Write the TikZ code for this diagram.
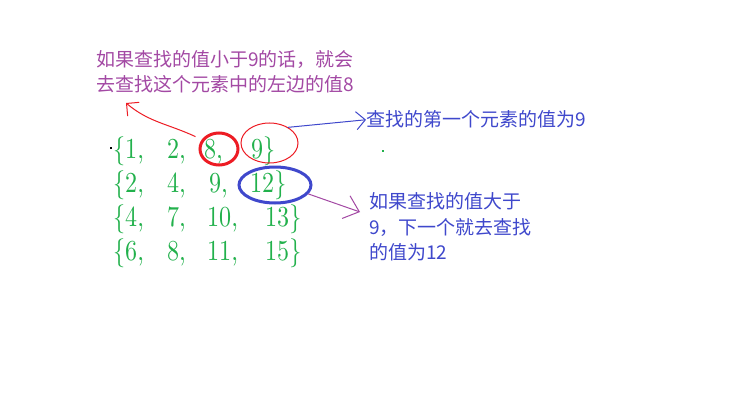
\documentclass[tikz,border=0pt]{standalone}
\usepackage{fontspec}
\usepackage{xcolor}
\usepackage{tikz}
\usetikzlibrary{arrows.meta,positioning,shapes.geometric}

\newfontfamily\cjk{Noto Sans CJK SC}
\newfontfamily\numfont{lmroman10-regular}[Extension=.otf, FakeStretch=0.83]

\definecolor{numgreen}{HTML}{22B14C}
\definecolor{hitred}{HTML}{ED1C24}
\definecolor{lookblue}{HTML}{3F48CC}
\definecolor{notepurple}{HTML}{A349A4}

\begin{document}
\begin{tikzpicture}[
    x=1pt, y=-1pt,
    num/.style={anchor=base west, inner sep=0pt, text=numgreen,
      font=\numfont\fontsize{29}{29}\selectfont},
    hint/.style={inner sep=0pt, align=left,
      font=\cjk\fontsize{19}{25.5}\selectfont},
    ring/.style={ellipse, draw, inner sep=0pt},
    >={Straight Barb[length=9pt,width=18pt]}
  ]
  \useasboundingbox[fill=white] (0,0) rectangle (738,401);

  % Notes
  \node[hint, text=notepurple, anchor=west] (lefthint) at (96,72)
    {如果查找的值小于9的话，就会\\去查找这个元素中的左边的值8};
  \node[hint, text=lookblue, anchor=base west] (righttop) at (366,127)
    {查找的第一个元素的值为9};
  \node[hint, text=lookblue, anchor=west] (righthint) at (369,227)
    {如果查找的值大于\\9，下一个就去查找\\的值为12};

  % Rows of the array
  \foreach \y/\a/\b/\c/\d/\cx/\dx [count=\r] in
      {158/1/2/8/9/204/251, 192/2/4/9/12/209/250,
       226/4/7/10/13/207/265, 260/6/8/11/15/207/265} {
    \node[num] (n\r1) at (113,\y) {\{\a,};
    \node[num] (n\r2) at (167,\y) {\b,};
    \node[num] (n\r3) at (\cx,\y) {\c,};
    \node[num] (n\r4) at (\dx,\y) {\d\}};
  }

  % Marks
  \node[ring, draw=hitred, line width=3pt, minimum width=38pt, minimum height=32pt] (hit) at (219,149) {};
  \node[ring, draw=hitred, line width=1pt, minimum width=57pt, minimum height=40pt] (miss) at (269.5,143) {};
  \node[ring, draw=lookblue, line width=3pt, minimum width=72pt, minimum height=36pt] (big) at (275,185) {};

  \fill[black] (110,147) rectangle (112,149);
  \fill[numgreen] (382,150) rectangle (384,152);

  % Arrows
  \coordinate (redtip) at (126,103);
  \draw[->, hitred, line width=1pt] ([xshift=-9pt]hit.north west) to[out=155, in=-40] (redtip);
  \draw[->, lookblue, line width=1pt] (miss.40) -- (righttop.west);
  \draw[notepurple, line width=1pt, -{Straight Barb[length=14pt,width=24pt]}]
    (big.-15) -- ([xshift=-9pt,yshift=15pt]righthint.west);

\end{tikzpicture}
\end{document}
